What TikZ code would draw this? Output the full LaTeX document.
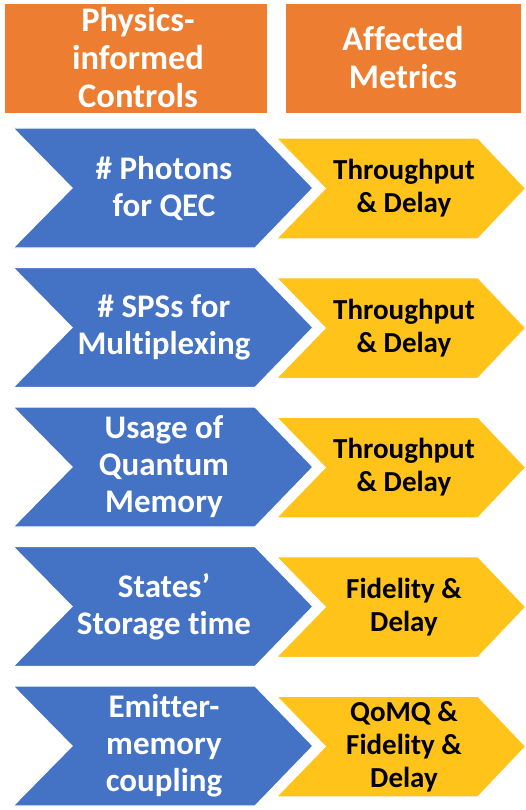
\documentclass[tikz,border=0pt]{standalone}
\usepackage{fontspec}
\setmainfont[Ligatures={NoCommon}]{Carlito}
\definecolor{hdr}{HTML}{ED7D31}
\definecolor{blu}{HTML}{4472C4}
\definecolor{yel}{HTML}{FFC31A}
\begin{document}
\begin{tikzpicture}[x=1pt,y=-1pt,
  hdrbox/.style={fill=hdr,draw=none},
  bluechev/.style={fill=blu,draw=white,line width=1.2pt,line join=miter},
  yelchev/.style={fill=yel,draw=white,line width=1.5pt,line join=miter},
  hdrtxt/.style={text=white,font=\fontsize{34.5}{38}\selectfont\bfseries,align=center},
  bluetxt/.style={text=white,font=\fontsize{33}{37}\selectfont\bfseries,align=center},
  yeltxt/.style={text=black,font=\fontsize{29}{33}\selectfont\bfseries,align=center}]
\useasboundingbox (0,0) rectangle (526,810);
\fill[white] (0,0) rectangle (526,810);
\fill[hdrbox] (5,4) rectangle (267,113);
\fill[hdrbox] (286,4) rectangle (521,113);
\node[hdrtxt] (h1) at (138,58) {Physics-\\informed\\Controls};
\node[hdrtxt] (h2) at (403,58) {Affected\\Metrics};
\foreach \i/\bt/\yt in {0/{\# Photons\\for QEC}/{Throughput\\\& Delay},
  1/{\# SPSs for\\Multiplexing}/{Throughput\\\& Delay},
  2/{Usage of\\Quantum\\Memory}/{Throughput\\\& Delay},
  3/{States'\\Storage time}/{Fidelity \&\\Delay},
  4/{Emitter-\\memory\\coupling}/{QoMQ \&\\Fidelity \&\\Delay}}{
  \pgfmathsetmacro{\t}{128+139.5*\i}
  \draw[bluechev] (13,\t) -- (255,\t) -- (313,\t+60) -- (255,\t+120) -- (13,\t+120) -- (72,\t+60) -- cycle;
  \draw[yelchev] (276,\t+10) -- (478,\t+10) -- (526,\t+60.5) -- (478,\t+111) -- (276,\t+111) -- (325,\t+60.5) -- cycle;
  \node[bluetxt] (b\i) at (164,\t+60) {\bt};
  \node[yeltxt] (y\i) at (404,\t+60.5) {\yt};
}
\end{tikzpicture}
\end{document}
